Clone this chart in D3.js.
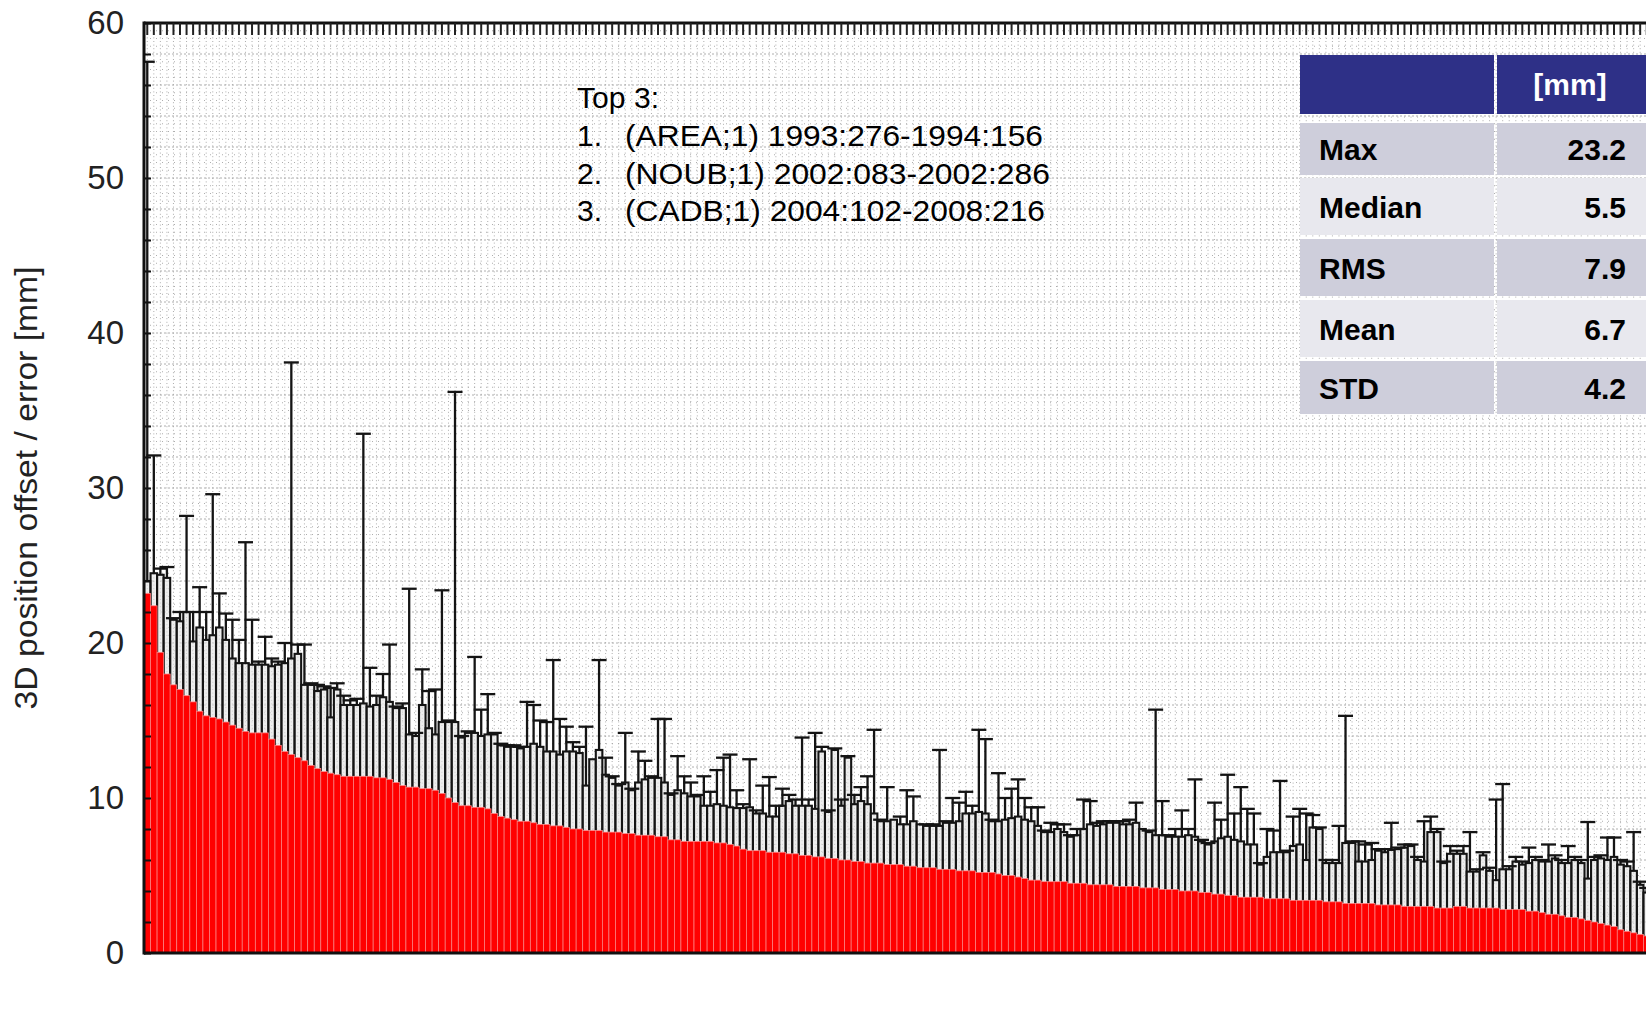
<!DOCTYPE html>
<html><head><meta charset="utf-8">
<script src="https://cdnjs.cloudflare.com/ajax/libs/d3/7.8.5/d3.min.js"></script>
<style>body{margin:0;background:#fff;} svg{display:block;font-family:"Liberation Sans",Arial,sans-serif;}</style>
</head><body>
<svg id="chart" width="1646" height="1023"></svg>
<script>
// ---- data ----
const offsets = [
23.2,22.4,19.4,18.0,17.3,17.0,16.6,16.2,15.6,15.3,
15.2,15.1,14.9,14.7,14.5,14.3,14.2,14.2,14.2,13.8,
13.4,13.0,12.8,12.6,12.4,12.1,11.9,11.7,11.6,11.5,
11.4,11.4,11.4,11.4,11.4,11.3,11.3,11.2,11.0,10.8,
10.7,10.7,10.6,10.6,10.5,10.3,10.0,9.7,9.5,9.5,
9.4,9.4,9.3,9.0,8.8,8.7,8.6,8.5,8.5,8.4,
8.3,8.3,8.2,8.2,8.1,8.0,8.0,7.9,7.9,7.9,
7.8,7.8,7.8,7.7,7.7,7.6,7.6,7.6,7.5,7.5,
7.3,7.3,7.2,7.2,7.2,7.2,7.2,7.1,7.1,7.0,
6.9,6.7,6.6,6.6,6.6,6.5,6.5,6.5,6.4,6.4,
6.3,6.3,6.2,6.2,6.1,6.1,6.0,6.0,5.9,5.9,
5.8,5.8,5.8,5.7,5.7,5.7,5.6,5.6,5.5,5.5,
5.5,5.4,5.4,5.4,5.3,5.3,5.3,5.2,5.2,5.2,
5.1,5.0,5.0,4.9,4.8,4.7,4.7,4.6,4.6,4.6,
4.6,4.5,4.5,4.5,4.4,4.4,4.4,4.4,4.3,4.3,
4.3,4.3,4.2,4.2,4.2,4.1,4.1,4.1,4.0,4.0,
4.0,3.9,3.9,3.8,3.8,3.7,3.7,3.6,3.6,3.6,
3.6,3.5,3.5,3.5,3.5,3.4,3.4,3.4,3.4,3.4,
3.3,3.3,3.3,3.2,3.2,3.2,3.2,3.2,3.1,3.1,
3.1,3.1,3.0,3.0,3.0,3.0,3.0,2.9,2.9,2.9,
3.0,3.0,2.9,2.9,2.9,2.9,2.9,2.8,2.8,2.8,
2.8,2.7,2.7,2.6,2.5,2.5,2.4,2.3,2.3,2.2,
2.1,2.0,1.9,1.8,1.7,1.5,1.4,1.3,1.2,1.1];
const boxTops = [
24.0,24.5,24.4,24.2,21.5,21.4,22.0,20.1,21.0,20.2,
20.5,21.0,20.2,19.0,18.7,18.7,18.6,18.6,18.6,18.5,
18.6,18.7,19.0,19.3,17.3,17.3,16.9,17.0,15.2,17.0,
16.0,16.0,16.0,16.1,15.9,16.0,16.5,16.2,15.8,15.8,
14.1,14.0,16.0,14.5,14.1,14.9,14.9,14.9,13.9,14.2,
14.2,14.0,14.1,14.1,13.4,13.3,13.3,13.2,13.3,13.5,
13.3,13.0,13.0,12.8,13.0,13.0,12.9,10.8,12.5,13.1,
11.5,11.3,10.8,11.0,10.5,11.0,11.2,11.3,11.3,11.0,
10.2,10.5,10.3,10.1,10.1,9.5,9.5,9.6,9.5,9.4,
9.35,9.35,9.4,9.0,9.0,8.8,8.8,9.5,9.8,9.5,
9.5,9.5,9.3,13.0,9.1,13.1,9.5,12.6,9.6,9.8,
9.6,9.0,8.5,8.5,8.6,8.3,8.3,8.5,8.3,8.2,
8.2,8.2,8.4,8.4,8.5,9.0,9.0,9.1,9.0,8.5,
8.5,8.6,8.7,8.8,8.6,8.5,8.2,7.8,7.8,8.0,
7.8,7.5,7.6,8.0,8.3,8.2,8.3,8.4,8.4,8.3,
8.3,8.4,8.0,7.8,7.6,7.6,7.5,7.5,7.5,7.6,
7.5,7.2,7.0,7.2,7.4,7.5,7.3,7.2,7.0,7.0,
5.7,6.2,6.5,6.5,6.5,6.9,7.0,6.0,8.1,8.0,
5.8,5.8,5.8,7.1,7.1,5.9,5.9,6.0,6.6,6.5,
6.65,6.7,6.8,6.9,6.0,5.9,7.8,7.8,5.8,6.4,
6.4,6.4,5.25,5.25,6.3,5.3,4.7,5.4,5.4,5.9,
5.7,5.8,6.0,5.9,5.9,6.1,5.8,5.8,6.0,5.8,
4.8,6.0,6.1,6.0,6.2,5.7,5.6,5.3,4.4,3.9];
const whiskerTops = [
57.5,32.1,24.8,24.9,21.6,22.0,28.2,22.0,23.6,22.0,
29.6,23.2,21.9,21.5,20.2,26.5,21.5,18.8,20.4,19.0,
18.8,20.0,38.1,19.9,19.9,17.4,17.3,17.2,17.1,17.4,
16.6,16.3,16.4,33.5,18.4,16.6,18.0,19.9,15.9,16.1,
23.5,14.2,18.3,16.9,17.0,23.4,15.0,36.2,14.0,14.3,
19.1,15.7,16.7,14.2,13.5,13.4,13.4,13.3,16.2,16.0,
15.0,14.9,18.9,15.1,14.6,13.6,13.3,14.6,10.9,18.9,
12.6,11.4,10.9,14.2,10.6,13.0,12.4,11.4,15.1,15.1,
10.3,12.7,11.4,11.0,10.2,11.4,10.4,11.8,12.6,12.8,
10.5,9.6,12.5,9.2,10.8,11.35,9.5,10.6,10.2,9.9,
13.9,9.9,14.2,13.3,9.2,13.2,9.9,12.7,10.2,10.7,
11.4,14.4,8.6,10.7,8.4,8.8,10.5,10.1,8.3,8.3,
8.3,13.1,8.5,10.0,9.7,10.4,9.5,14.4,13.8,8.6,
11.6,10.0,10.6,11.2,10.0,9.4,9.4,7.9,8.4,8.3,
8.3,7.6,8.0,9.9,9.8,8.4,8.5,8.5,8.5,8.5,
8.6,9.7,8.0,7.9,15.7,9.8,7.6,8.0,9.2,8.0,
11.2,7.3,7.1,9.7,8.6,11.5,9.0,10.7,9.3,9.0,
5.8,8.0,7.9,11.1,6.6,8.8,9.3,9.0,8.9,8.1,
6.0,6.0,8.2,15.3,7.2,7.2,7.0,7.1,6.7,6.7,
8.4,6.8,7.0,7.0,6.2,8.5,8.8,8.0,5.9,6.9,
6.6,6.9,7.8,5.4,6.5,5.5,9.9,10.9,5.6,6.2,
5.9,6.8,6.2,6.0,7.0,6.3,6.0,6.9,6.2,6.0,
8.45,6.2,6.3,7.45,7.45,6.0,5.9,7.8,4.6,4.2];
const yTickValues = [0,10,20,30,40,50,60];
const yTitle = "3D position offset / error [mm]";
const top3Title = "Top 3:";
const top3Numbers = ["1.","2.","3."];
const top3Items = ["(AREA;1) 1993:276-1994:156","(NOUB;1) 2002:083-2002:286","(CADB;1) 2004:102-2008:216"];
const statHeader = "[mm]";
const statNames = ["Max","Median","RMS","Mean","STD"];
const statValues = ["23.2","5.5","7.9","6.7","4.2"];

// ---- layout ----
const L = 144, R = 1650, T = 23, B = 953;
const svg = d3.select("#chart");
const N = offsets.length;
const x = d3.scaleBand().domain(d3.range(N)).range([L, R]).padding(0);
const y = d3.scaleLinear().domain([0, 60]).range([B, T]);
const bw = x.bandwidth();

svg.append("defs").append("clipPath").attr("id","plotclip")
  .append("rect").attr("x",L).attr("y",T).attr("width",R-L).attr("height",B-T);

const plot = svg.append("g").attr("clip-path","url(#plotclip)");

// grid (dotted)
const grid = plot.append("g");
grid.selectAll("line.v").data(d3.range(N)).join("line")
  .attr("x1", i => x(i) + bw/2).attr("x2", i => x(i) + bw/2)
  .attr("y1", T).attr("y2", B)
  .attr("stroke","#999").attr("stroke-width",0.8).attr("stroke-dasharray","1,2.6");
grid.selectAll("line.h").data(d3.range(0.5, 60, 0.5)).join("line")
  .attr("x1", L).attr("x2", R)
  .attr("y1", d => y(d)).attr("y2", d => y(d))
  .attr("stroke","#999").attr("stroke-width",0.8)
  .attr("stroke-dasharray", d => (d % 2 === 0) ? "2,2" : "1,5");

// grey boxes with black outlines
plot.append("g").selectAll("rect").data(boxTops).join("rect")
  .attr("x",(d,i)=>x(i)).attr("width",bw)
  .attr("y",d=>y(d)).attr("height",d=>y(0)-y(d))
  .attr("fill","#e2e2e2").attr("fill-opacity",0.6)
  .attr("stroke","#141414").attr("stroke-width",2.1);

// red offset bars
plot.append("g").selectAll("rect").data(offsets).join("rect")
  .attr("x",(d,i)=>x(i)).attr("width",bw)
  .attr("y",d=>y(d)).attr("height",d=>y(0)-y(d))
  .attr("fill","#ff0000").attr("stroke","#ff8c8c").attr("stroke-width",0.7);

// whiskers
const wg = plot.append("g").attr("stroke","#141414").attr("stroke-width",2.3);
whiskerTops.forEach((w,i)=>{
  const b = boxTops[i];
  if (w <= b) return;
  const cx = x(i) + bw/2;
  wg.append("line").attr("x1",cx).attr("x2",cx).attr("y1",y(b)).attr("y2",y(w));
  wg.append("line").attr("x1",cx-7.5).attr("x2",cx+7.5).attr("y1",y(w)).attr("y2",y(w));
});

// axes frame
const axg = svg.append("g");
axg.append("line").attr("x1",L).attr("x2",1646).attr("y1",T).attr("y2",T).attr("stroke","#111").attr("stroke-width",3);
axg.append("line").attr("x1",L).attr("x2",1646).attr("y1",B).attr("y2",B).attr("stroke","#111").attr("stroke-width",3);
axg.append("line").attr("x1",L).attr("x2",L).attr("y1",T-1.5).attr("y2",B+1.5).attr("stroke","#111").attr("stroke-width",3);
// top ticks at each bar
axg.selectAll("line.tt").data(d3.range(N)).join("line")
  .attr("x1",i=>x(i)+bw/2).attr("x2",i=>x(i)+bw/2)
  .attr("y1",T).attr("y2",T+12).attr("stroke","#222").attr("stroke-width",2);

// y axis (ticks inward)
const yAxis = d3.axisLeft(y).tickValues(d3.range(0,61,2)).tickSize(-7).tickPadding(20)
  .tickFormat(d => yTickValues.includes(d) ? String(d) : "");
const ya = svg.append("g").attr("transform",`translate(${L},0)`).call(yAxis);
ya.select(".domain").remove();
ya.selectAll(".tick line").attr("stroke","#111").attr("stroke-width",2);
ya.selectAll(".tick text").attr("font-size",33).attr("fill","#222")
  .attr("font-family","Liberation Sans, Arial, sans-serif");

// y title
svg.append("text").attr("transform","translate(37,488) rotate(-90)")
  .attr("text-anchor","middle").attr("font-size",32).attr("fill","#222")
  .attr("textLength",443).attr("lengthAdjust","spacingAndGlyphs")
  .text(yTitle);

// Top 3 annotation
const ann = svg.append("g").attr("font-size",30).attr("fill","#000");
ann.append("text").attr("x",577).attr("y",108).attr("textLength",82).attr("lengthAdjust","spacingAndGlyphs").text(top3Title);
const annW = [418,425,420];
top3Items.forEach((t,i)=>{
  const by = 146 + i*37.7;
  ann.append("text").attr("x",577).attr("y",by).text(top3Numbers[i]);
  ann.append("text").attr("x",625).attr("y",by).attr("textLength",annW[i]).attr("lengthAdjust","spacingAndGlyphs").text(t);
});

// stats table
const tbl = svg.append("g");
const c0 = 1300, c1 = 1494, c2 = 1497, c3 = 1646;
tbl.append("rect").attr("x",c0).attr("y",55).attr("width",c1-c0).attr("height",59).attr("fill","#2e3087");
tbl.append("rect").attr("x",c2).attr("y",55).attr("width",c3-c2).attr("height",59).attr("fill","#2e3087");
tbl.append("text").attr("x",1570).attr("y",95).attr("text-anchor","middle")
  .attr("font-size",30).attr("font-weight","bold").attr("fill","#fff").text(statHeader);
const rowTops = [123,178,239,300,361];
const rowBots = [175,235,296,357,414];
statNames.forEach((nm,i)=>{
  const fill = i % 2 === 0 ? "#cecedb" : "#e8e8ee";
  tbl.append("rect").attr("x",c0).attr("y",rowTops[i]).attr("width",c1-c0).attr("height",rowBots[i]-rowTops[i]).attr("fill",fill);
  tbl.append("rect").attr("x",c2).attr("y",rowTops[i]).attr("width",c3-c2).attr("height",rowBots[i]-rowTops[i]).attr("fill",fill);
  const bl = (rowTops[i]+rowBots[i])/2 + 11;
  tbl.append("text").attr("x",1319).attr("y",bl).attr("font-size",30).attr("font-weight","bold").attr("fill","#000").text(nm);
  tbl.append("text").attr("x",1626).attr("y",bl).attr("text-anchor","end").attr("font-size",30).attr("font-weight","bold").attr("fill","#000").text(statValues[i]);
});
</script>
</body></html>
